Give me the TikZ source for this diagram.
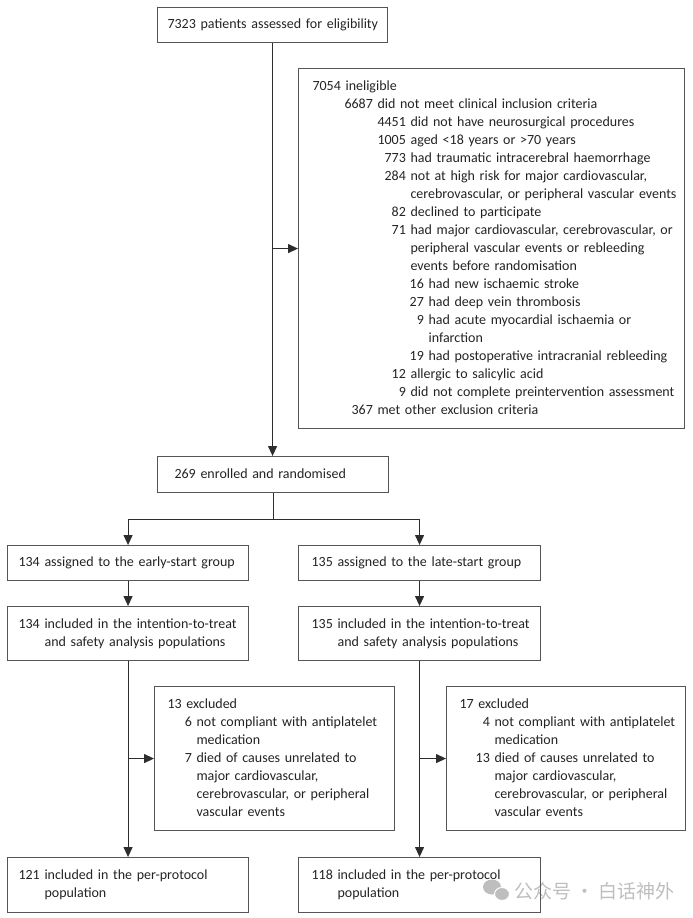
\documentclass[tikz,border=0pt]{standalone}
\usepackage{fontspec}
\setmainfont{Carlito}
\newfontfamily\cjkfont{Noto Sans CJK SC}
\usetikzlibrary{arrows.meta}
\definecolor{boxc}{RGB}{85,85,85}
\definecolor{linec}{RGB}{45,45,45}
\definecolor{txtc}{RGB}{35,35,35}
\definecolor{wmc}{RGB}{190,190,190}
\newcommand\ent[3]{\makebox[0pt][l]{\hspace*{#1pt}\llap{#2\ }#3}}
\newcommand\cont[2]{\makebox[0pt][l]{\hspace*{#1pt}#2}}
\begin{document}
\begin{tikzpicture}[x=1pt,y=-1pt,
  box/.style={draw=boxc, line width=1.1pt, rectangle, anchor=north west, inner ysep=0pt,
    align=left, text=txtc, font=\fontsize{14}{18}\selectfont,
    execute at begin node=\strut, execute at end node=\strut},
  arr/.style={draw=linec, line width=1.1pt, -{Triangle[width=9pt,length=10pt]}},
  ln/.style={draw=linec, line width=1.1pt}]
\useasboundingbox (0,0) rectangle (693,918);

% watermark
\fill[wmc] (492,887) ellipse [x radius=9, y radius=7.5];
\filldraw[fill=wmc, draw=white, line width=1pt] (502,894) ellipse [x radius=7.5, y radius=6.5];
\node[font=\cjkfont\fontsize{19}{19}\selectfont, text=wmc, anchor=west, inner sep=0pt] (wm) at (514,891) {公众号 · 白话神外};

\node[box, inner xsep=10pt, text width=210pt, minimum height=35] (assess) at (157,7)
  {\cont{0}{7323 patients assessed for eligibility}};

\node[box, inner xsep=0pt, text width=386pt, minimum height=360] (inel) at (298,68) {%
\ent{47}{7054}{ineligible}\\
\ent{79}{6687}{did not meet clinical inclusion criteria}\\
\ent{112}{4451}{did not have neurosurgical procedures}\\
\ent{112}{1005}{aged <18 years or >70 years}\\
\ent{112}{773}{had traumatic intracerebral haemorrhage}\\
\ent{112}{284}{not at high risk for major cardiovascular,}\\
\cont{112}{cerebrovascular, or peripheral vascular events}\\
\ent{112}{82}{declined to participate}\\
\ent{112}{71}{had major cardiovascular, cerebrovascular, or}\\
\cont{112}{peripheral vascular events or rebleeding}\\
\cont{112}{events before randomisation}\\
\ent{130}{16}{had new ischaemic stroke}\\
\ent{130}{27}{had deep vein thrombosis}\\
\ent{130}{9}{had acute myocardial ischaemia or}\\
\cont{130}{infarction}\\
\ent{130}{19}{had postoperative intracranial rebleeding}\\
\ent{112}{12}{allergic to salicylic acid}\\
\ent{112}{9}{did not complete preintervention assessment}\\
\ent{79}{367}{met other exclusion criteria}};

\node[box, inner xsep=17pt, text width=197pt, minimum height=36] (rand) at (157,456)
  {\cont{0}{269 enrolled and randomised}};

\node[box, inner xsep=11pt, text width=219pt, minimum height=35] (early) at (7,545)
  {\cont{0}{134 assigned to the early-start group}};
\node[box, inner xsep=13pt, text width=216pt, minimum height=35] (late) at (298,545)
  {\cont{0}{135 assigned to the late-start group}};

\node[box, inner xsep=11pt, text width=219pt, minimum height=54] (itt1) at (7,606)
  {\cont{0}{134 included in the intention-to-treat}\\\cont{26}{and safety analysis populations}};
\node[box, inner xsep=13pt, text width=216pt, minimum height=54] (itt2) at (298,606)
  {\cont{0}{135 included in the intention-to-treat}\\\cont{26}{and safety analysis populations}};

\node[box, inner xsep=0pt, text width=240pt, minimum height=144] (ex1) at (154,686) {%
\cont{13}{13 excluded}\\
\ent{42}{6}{not compliant with antiplatelet}\\
\cont{42}{medication}\\
\ent{42}{7}{died of causes unrelated to}\\
\cont{42}{major cardiovascular,}\\
\cont{42}{cerebrovascular, or peripheral}\\
\cont{42}{vascular events}};
\node[box, inner xsep=0pt, text width=239pt, minimum height=144] (ex2) at (446,686) {%
\cont{13}{17 excluded}\\
\ent{48}{4}{not compliant with antiplatelet}\\
\cont{48}{medication}\\
\ent{48}{13}{died of causes unrelated to}\\
\cont{48}{major cardiovascular,}\\
\cont{48}{cerebrovascular, or peripheral}\\
\cont{48}{vascular events}};

\node[box, inner xsep=11pt, text width=219pt, minimum height=55] (pp1) at (7,857)
  {\cont{0}{121 included in the per-protocol}\\\cont{26}{population}};
\node[box, inner xsep=13pt, text width=216pt, minimum height=55] (pp2) at (298,857)
  {\cont{0}{118 included in the per-protocol}\\\cont{26}{population}};

% connectors
\draw[arr] (assess.south) -- (assess.south |- rand.north);
\coordinate (b1) at (assess.south |- inel.west);
\draw[arr] (b1) -- (inel.west);
\path (rand.south) ++(0,26) coordinate (split);
\draw[ln] (rand.south) -- (split);
\draw[arr] (split) -| (early.north);
\draw[arr] (split) -| (late.north);
\draw[arr] (early.south) -- (itt1.north);
\draw[arr] (late.south) -- (itt2.north);
\draw[arr] (itt1.south) -- (pp1.north);
\draw[arr] (itt2.south) -- (pp2.north);
\draw[arr] (itt1.south |- ex1.west) -- (ex1.west);
\draw[arr] (itt2.south |- ex2.west) -- (ex2.west);
\end{tikzpicture}
\end{document}
